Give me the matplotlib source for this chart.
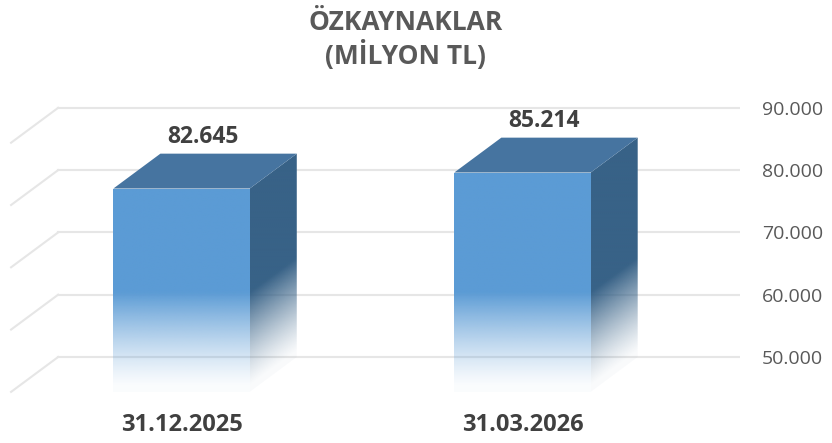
import numpy as np
import matplotlib
matplotlib.use('Agg')
import matplotlib.pyplot as plt
from matplotlib.patches import Polygon
from matplotlib.ticker import FuncFormatter

# veri
kategoriler = ['31.12.2025', '31.03.2026']
degerler = [82645, 85214]
etiketler = ['82.645', '85.214']
y_tikler = [50000, 60000, 70000, 80000, 90000]

# 3B gorunum ayarlari
taban = 50000
yari_gen = 0.2
DX = -0.138     # derinlik (x birimi)
DY = -5600      # derinlik (deger birimi)
on_renk = np.array([91, 155, 213]) / 255
yan_renk = np.array([56, 98, 135]) / 255
ust_renk = '#4674A0'
yazi_renk = '#404040'

plt.rcParams['font.family'] = ['Open Sans', 'DejaVu Sans']

fig = plt.figure(figsize=(8.32, 4.43), dpi=100)
ax = fig.add_axes([0.0084, 0.0957, 0.881, 0.6890])
ax.set_xlim(-0.65, 1.5)
ax.set_ylim(43000, 92000)


def saydamlik(seviye):
    a = np.clip((seviye - taban) / 16000, 0, 1) ** 1.3
    return np.clip(a, 0.03, 1)


def boyali_yuz(koseler, renk, alfa_fn):
    koseler = np.array(koseler)
    x0, x1 = koseler[:, 0].min(), koseler[:, 0].max()
    y0, y1 = koseler[:, 1].min(), koseler[:, 1].max()
    xs = np.linspace(x0, x1, 120)
    ys = np.linspace(y1, y0, 300)
    X, Y = np.meshgrid(xs, ys)
    img = np.zeros(X.shape + (4,))
    img[..., :3] = renk
    img[..., 3] = alfa_fn(X, Y)
    poly = Polygon(koseler, closed=True, facecolor='none', edgecolor='none',
                   transform=ax.transData)
    ax.add_patch(poly)
    im = ax.imshow(img, extent=(x0, x1, y0, y1), aspect='auto',
                   interpolation='bilinear', zorder=3)
    im.set_clip_path(poly)


# arka duvar cizgileri ve yan duvar
for v in y_tikler:
    ax.plot([-0.5, 1.5], [v, v], color='#E6E6E6', lw=1.5, zorder=1)
    ax.plot([-0.5, -0.5 + DX], [v, v + DY], color='#E6E6E6', lw=1.5, zorder=1)

for i, v in enumerate(degerler):
    sol = i - yari_gen
    sag = i + yari_gen
    # on yuz
    on = [(sol + DX, taban + DY), (sag + DX, taban + DY),
          (sag + DX, v + DY), (sol + DX, v + DY)]
    boyali_yuz(on, on_renk, lambda X, Y: saydamlik(Y - DY))
    # yan yuz
    yan = [(sag + DX, taban + DY), (sag + DX, v + DY), (sag, v), (sag, taban)]

    def yan_alfa(X, Y, sag=sag):
        t = (X - (sag + DX)) / (-DX)
        return saydamlik(Y - DY * (1 - t))
    boyali_yuz(yan, yan_renk, yan_alfa)
    # ust yuz
    ust = [(sol + DX, v + DY), (sag + DX, v + DY), (sag, v), (sol, v)]
    ax.add_patch(Polygon(ust, closed=True, facecolor=ust_renk, edgecolor='none', zorder=4))

    ax.text(i + DX * 0.55, v + 2700, etiketler[i], ha='center', va='center',
            fontsize=16.5, fontweight='bold', color=yazi_renk)
    ax.annotate(kategoriler[i], xy=(i + DX, taban + DY), xytext=(0, -24),
                textcoords='offset points', ha='center', va='center',
                fontsize=17, fontweight='bold', color=yazi_renk)

ax.yaxis.tick_right()
ax.set_yticks(y_tikler)
ax.yaxis.set_major_formatter(FuncFormatter(lambda v, p: f'{int(v):,}'.replace(',', '.')))
ax.tick_params(axis='y', length=0, pad=16, labelsize=14, labelcolor='#595959')
ax.set_xticks([])
for s in ax.spines.values():
    s.set_visible(False)
ax.patch.set_visible(False)

fig.text(0.487, 1 - 23 / 443, 'ÖZKAYNAKLAR', ha='center', va='center',
         fontsize=19, fontweight='bold', color='#595959')
fig.text(0.487, 1 - 55 / 443, '(MİLYON TL)', ha='center', va='center',
         fontsize=19, fontweight='bold', color='#595959')

fig.savefig('out.png', dpi=100)
